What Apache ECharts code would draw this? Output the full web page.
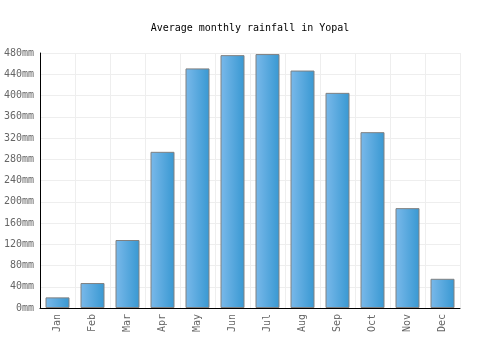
<!DOCTYPE html>
<html><head><meta charset="utf-8">
<script src="https://cdn.jsdelivr.net/npm/echarts@6/dist/echarts.min.js"></script>
<style>html,body{margin:0;padding:0;background:#fff}#c{width:500px;height:350px}</style>
</head><body><div id="c"></div>
<script>
const months = ['Jan','Feb','Mar','Apr','May','Jun','Jul','Aug','Sep','Oct','Nov','Dec'];
const rainfall = [20, 47, 128, 294, 451, 476, 478, 447, 405, 331, 188, 55];
const titleText = 'Average monthly rainfall in Yopal';
const FONT = 'DejaVu Sans Mono';
const chart = echarts.init(document.getElementById('c'), null, {renderer:'canvas'});
chart.setOption({
  animation:false,
  backgroundColor:'#fff',
  title:{text:titleText,left:'center',top:18,textStyle:{fontFamily:FONT,fontSize:10,fontWeight:'normal',color:'#000'}},
  grid:{left:40,right:40,top:53,bottom:42,containLabel:false},
  xAxis:{type:'category',data:months,
    axisLine:{lineStyle:{color:'#000',width:1}},
    axisTick:{show:false},
    axisLabel:{rotate:90,fontFamily:FONT,fontSize:10,color:'#666',margin:6},
    splitLine:{show:true,interval:0,lineStyle:{color:'#eee'}}},
  yAxis:{type:'value',min:0,max:480,interval:40,
    axisLine:{show:true,lineStyle:{color:'#000',width:1}},
    axisTick:{show:false},
    axisLabel:{formatter:'{value}mm',fontFamily:FONT,fontSize:10,color:'#666',margin:6},
    splitLine:{lineStyle:{color:'#eee'}}},
  series:[{type:'bar',data:rainfall,barWidth:24,
    itemStyle:{borderColor:'#808080',borderWidth:1,
      color:new echarts.graphic.LinearGradient(0,0,1,0,[{offset:0,color:'#7ab9ea'},{offset:1,color:'#3898d2'}])}}]
});
</script></body></html>
